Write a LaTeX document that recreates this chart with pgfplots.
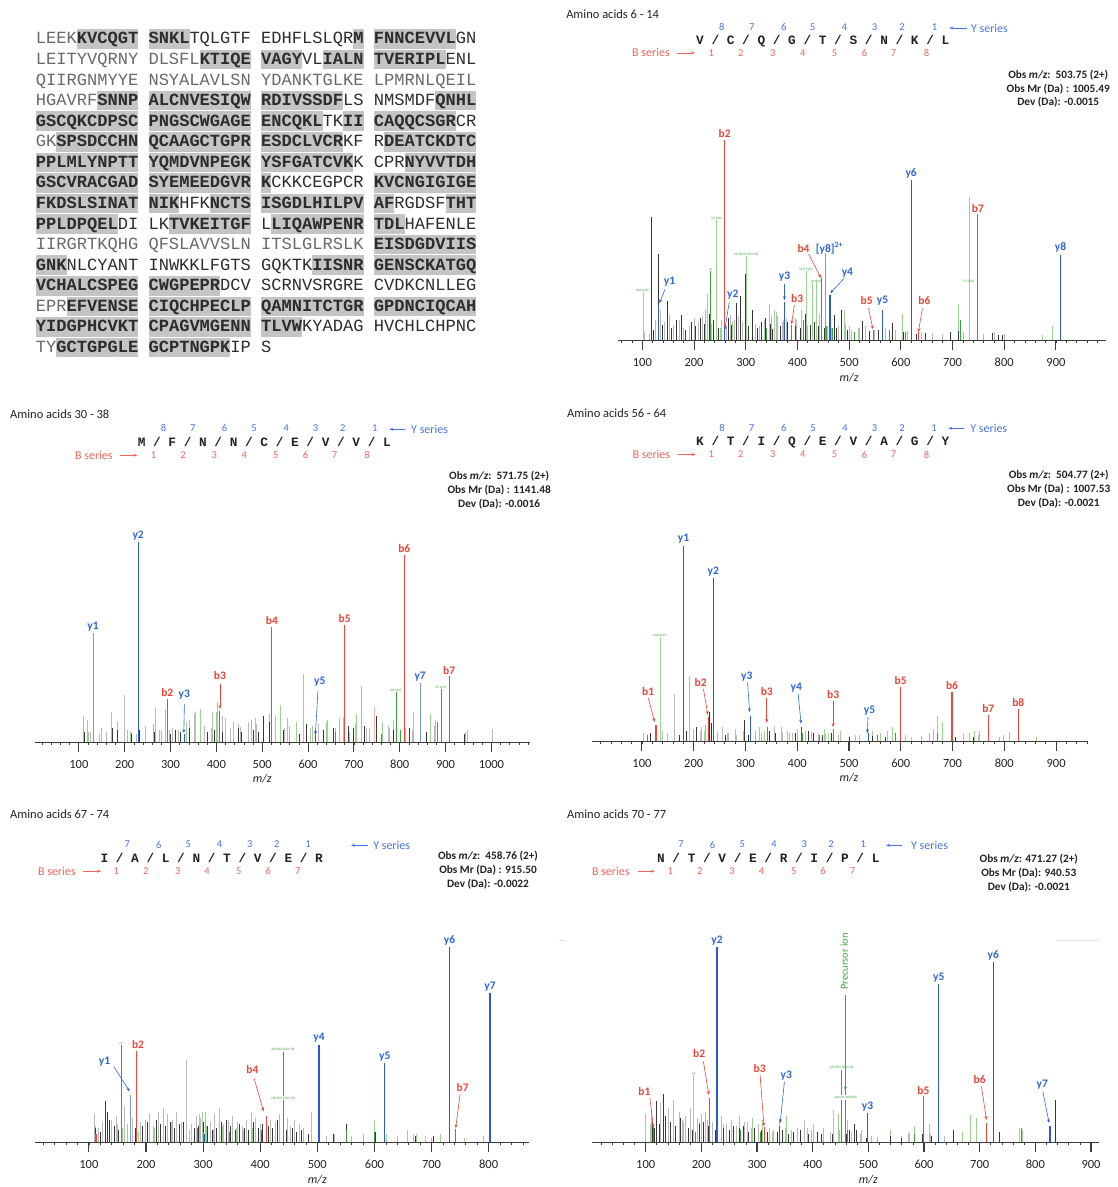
\documentclass[border=0pt]{standalone}
\usepackage{pgfplots}
\pgfplotsset{compat=1.18}
\usepackage{fontspec}
\setmainfont{Carlito}
\newfontfamily\seqfont{Liberation Mono}
\usetikzlibrary{arrows.meta}

\definecolor{txt}{RGB}{35,35,35}
\definecolor{seqlight}{RGB}{105,105,105}
\definecolor{seqdark}{RGB}{45,45,45}
\definecolor{hlgray}{RGB}{196,196,196}
\definecolor{numblue}{RGB}{70,115,225}
\definecolor{numred}{RGB}{240,100,90}
\definecolor{redpk}{RGB}{232,72,58}
\definecolor{bluepk}{RGB}{40,90,210}
\definecolor{lbluepk}{RGB}{120,150,225}
\definecolor{ltgray}{RGB}{185,185,185}
\definecolor{dkgray}{RGB}{55,55,55}
\definecolor{ltgreen}{RGB}{155,212,145}
\definecolor{dkgreen}{RGB}{60,160,60}
\definecolor{axisgray}{RGB}{60,60,60}
\definecolor{lblred}{RGB}{230,70,55}
\definecolor{lblblue}{RGB}{45,100,215}
\definecolor{lblgreen}{RGB}{60,165,60}

\newcommand\fs[1]{\fontsize{#1}{#1}\selectfont}
% highlighted residues: bold text over a grey band
\newcommand\HL[1]{\setbox0\hbox{\bfseries\color{seqdark}#1}\rlap{\color{hlgray}\rule[-4.8pt]{\wd0}{19.6pt}}\box0\relax}
\newcommand\seqrow[2]{\node[anchor=base west,inner sep=0pt,font=\seqfont\fs{17.1},text=seqlight] at (35.7,{44+20.6*(#1-1)}) {#2};}

\tikzset{
  plab/.style={font=\bfseries\fs{11.5}, inner sep=2pt},
  tiny/.style={font=\fs{3.5}, text=lblgreen, inner sep=0.5pt},
  arr/.style={line width=0.6pt, -{Stealth[length=4pt,width=3pt]}},
}
\pgfplotsset{
  spec/.style={
    scale only axis, clip=false,
    hide y axis, axis x line*=bottom,
    ymin=0, ymax=220, height=220pt,
    tick align=outside,
    major tick length=10pt, minor tick length=3pt,
    major tick style={line width=1.1pt, draw=axisgray},
    minor tick style={line width=0.7pt, draw=axisgray},
    x axis line style={line width=0.9pt, draw=axisgray},
    minor xtick={0,20,...,1100},
    xticklabel style={font=\fs{12.5}, text=txt, anchor=center, yshift=-12.3pt},
    /pgf/number format/1000 sep={},
    /pgf/number format/assume math mode=true,
  },
  pk/.style={ycomb, mark=none, line width=0.7pt},
  apk/.style={ycomb, mark=none, line width=1.1pt},
}

\begin{document}
\begin{tikzpicture}
\begin{scope}[x=1pt,y=-1pt]
\useasboundingbox (0,0) rectangle (1119,1187);

% ---------------- protein sequence with covered stretches ----------------
\seqrow{1}{LEEK\HL{KVCQGT} \HL{SNKL}TQLGTF EDHFLSLQR\HL{M} \HL{FNNCEVVL}GN}
\seqrow{2}{LEITYVQRNY DLSFL\HL{KTIQE} \HL{VAGY}VL\HL{IALN} \HL{TVERIPL}ENL}
\seqrow{3}{QIIRGNMYYE NSYALAVLSN YDANKTGLKE LPMRNLQEIL}
\seqrow{4}{HGAVRF\HL{SNNP} \HL{ALCNVESIQW} \HL{RDIVSSDF}LS NMSMDF\HL{QNHL}}
\seqrow{5}{\HL{GSCQKCDPSC} \HL{PNGSCWGAGE} \HL{ENCQKL}TK\HL{II} \HL{CAQQCSGR}CR}
\seqrow{6}{GK\HL{SPSDCCHN} \HL{QCAAGCTGPR} \HL{ESDCLVCR}KF R\HL{DEATCKDTC}}
\seqrow{7}{\HL{PPLMLYNPTT} \HL{YQMDVNPEGK} \HL{YSFGATCVK}K CPR\HL{NYVVTDH}}
\seqrow{8}{\HL{GSCVRACGAD} \HL{SYEMEEDGVR} \HL{K}CKKCEGPCR \HL{KVCNGIGIGE}}
\seqrow{9}{\HL{FKDSLSINAT} \HL{NIK}HFK\HL{NCTS} \HL{ISGDLHILPV} \HL{AF}RGDSF\HL{THT}}
\seqrow{10}{\HL{PPLDPQEL}DI LK\HL{TVKEITGF} L\HL{LIQAWPENR} \HL{TDL}HAFENLE}
\seqrow{11}{IIRGRTKQHG QFSLAVVSLN ITSLGLRSLK \HL{EISDGDVIIS}}
\seqrow{12}{\HL{GNK}NLCYANT INWKKLFGTS GQKTK\HL{IISNR} \HL{GENSCKATGQ}}
\seqrow{13}{\HL{VCHALCSPEG} \HL{CWGPEPR}DCV SCRNVSRGRE CVDKCNLLEG}
\seqrow{14}{EPR\HL{EFVENSE} \HL{CIQCHPECLP} \HL{QAMNITCTGR} \HL{GPDNCIQCAH}}
\seqrow{15}{\HL{YIDGPHCVKT} \HL{CPAGVMGENN} \HL{TLVW}KYADAG HVCHLCHPNC}
\seqrow{16}{TY\HL{GCTGPGLE} \HL{GCPTNGPK}IP S}

% ---------------- panel headers ----------------
% A: residues 6-14
\node[anchor=west,inner sep=0,font=\fs{12.5},text=txt] at (567,14) {Amino acids 6 - 14};
\node[anchor=base west,inner sep=0,font=\seqfont\bfseries\fs{12.8},text=txt] at (697.2,45) {V / C / Q / G / T / S / N / K / L};
\foreach \x/\n in {723/8,753/7,785/6,814/5,846/4,876/3,903.6/2,936/1} \node[font=\fs{10.5},text=numblue] at (\x,27) {\n};
\foreach \x/\n in {712.5/1,742/2,774/3,804/4,836/5,866/6,895/7,928/8} \node[font=\fs{10.5},text=numred] at (\x,53) {\n};
\draw[numblue,arr] (969,28) -- (951,28);
\node[anchor=west,inner sep=0,font=\fs{12},text=numblue] at (972.5,28) {Y series};
\node[anchor=east,inner sep=0,font=\fs{12},text=numred] at (671,53) {B series};
\draw[numred,arr] (678,53) -- (696,53);
\node[font=\bfseries\fs{11.3},text=txt] at (1060,75) {Obs \textit{m/z}:\ \ 503.75 (2+)};
\node[font=\bfseries\fs{11.3},text=txt] at (1060,89) {Obs Mr (Da) : 1005.49};
\node[font=\bfseries\fs{11.3},text=txt] at (1060,102.5) {Dev (Da): -0.0015};

% B: residues 30-38
\node[anchor=west,inner sep=0,font=\fs{12.5},text=txt] at (10,415) {Amino acids 30 - 38};
\node[anchor=base west,inner sep=0,font=\seqfont\bfseries\fs{12.8},text=txt] at (137.8,447) {M / F / N / N / C / E / V / V / L};
\foreach \x/\n in {163.7/8,193.2/7,224.9/6,254.4/5,286.8/4,316/3,343.4/2,375.4/1} \node[font=\fs{10.5},text=numblue] at (\x,429) {\n};
\foreach \x/\n in {153.7/1,183.3/2,214.6/3,244.8/4,276.2/5,306/6,335.2/7,367.6/8} \node[font=\fs{10.5},text=numred] at (\x,456) {\n};
\draw[numblue,arr] (405.7,430) -- (390,430);
\node[anchor=west,inner sep=0,font=\fs{12},text=numblue] at (411.7,430) {Y series};
\node[anchor=east,inner sep=0,font=\fs{12},text=numred] at (113,456) {B series};
\draw[numred,arr] (120,456) -- (137.7,456);
\node[font=\bfseries\fs{11.3},text=txt] at (500,477.3) {Obs \textit{m/z}:\ \ 571.75 (2+)};
\node[font=\bfseries\fs{11.3},text=txt] at (500,491.3) {Obs Mr (Da) : 1141.48};
\node[font=\bfseries\fs{11.3},text=txt] at (500,505) {Dev (Da): -0.0016};

% C: residues 56-64
\node[anchor=west,inner sep=0,font=\fs{12.5},text=txt] at (567.9,414) {Amino acids 56 - 64};
\node[anchor=base west,inner sep=0,font=\seqfont\bfseries\fs{12.8},text=txt] at (697.2,446.3) {K / T / I / Q / E / V / A / G / Y};
\foreach \x/\n in {723.2/8,752.9/7,785/6,814.3/5,846.4/4,876/3,903.6/2,935.7/1} \node[font=\fs{10.5},text=numblue] at (\x,428.7) {\n};
\foreach \x/\n in {712.5/1,742/2,774/3,804/4,836/5,866/6,895/7,928/8} \node[font=\fs{10.5},text=numred] at (\x,455.3) {\n};
\draw[numblue,arr] (966,429) -- (950,429);
\node[anchor=west,inner sep=0,font=\fs{12},text=numblue] at (971.8,429) {Y series};
\node[anchor=east,inner sep=0,font=\fs{12},text=numred] at (671.4,455.3) {B series};
\draw[numred,arr] (679.6,455.3) -- (696.8,455.3);
\node[font=\bfseries\fs{11.3},text=txt] at (1060.5,476.3) {Obs \textit{m/z}:\ \ 504.77 (2+)};
\node[font=\bfseries\fs{11.3},text=txt] at (1060.5,490.3) {Obs Mr (Da) : 1007.53};
\node[font=\bfseries\fs{11.3},text=txt] at (1060.5,504) {Dev (Da): -0.0021};

% D: residues 67-74
\node[anchor=west,inner sep=0,font=\fs{12.5},text=txt] at (10,815.3) {Amino acids 67 - 74};
\node[anchor=base west,inner sep=0,font=\seqfont\bfseries\fs{12.8},text=txt] at (100.5,863.6) {I / A / L / N / T / V / E / R};
\foreach \x/\n in {127.4/7,159/6,188.6/5,220/4,250.2/3,277.2/2,308.5/1} \node[font=\fs{10.5},text=numblue] at (\x,846) {\n};
\foreach \x/\n in {116.4/1,146/2,178/3,207.5/4,239.1/5,268.7/6,298.2/7} \node[font=\fs{10.5},text=numred] at (\x,872.7) {\n};
\draw[numblue,arr] (368.3,846.7) -- (351.6,846.7);
\node[anchor=west,inner sep=0,font=\fs{12},text=numblue] at (373.7,846.7) {Y series};
\node[anchor=east,inner sep=0,font=\fs{12},text=numred] at (75.8,872.7) {B series};
\draw[numred,arr] (83.6,872.7) -- (101.4,872.7);
\node[font=\bfseries\fs{11.3},text=txt] at (488.8,858) {Obs \textit{m/z}:\ \ 458.76 (2+)};
\node[font=\bfseries\fs{11.3},text=txt] at (488.8,871.7) {Obs Mr (Da) : 915.50};
\node[font=\bfseries\fs{11.3},text=txt] at (488.8,885.3) {Dev (Da): -0.0022};

% E: residues 70-77
\node[anchor=west,inner sep=0,font=\fs{12.5},text=txt] at (567.9,815.3) {Amino acids 70 - 77};
\node[anchor=base west,inner sep=0,font=\seqfont\bfseries\fs{12.8},text=txt] at (658,864.3) {N / T / V / E / R / I / P / L};
\foreach \x/\n in {682.1/7,713.6/6,743.6/5,775.4/4,805.7/3,832.5/2,864.6/1} \node[font=\fs{10.5},text=numblue] at (\x,846) {\n};
\foreach \x/\n in {671.4/1,701/2,733.2/3,762.9/4,795/5,824.3/6,853.9/7} \node[font=\fs{10.5},text=numred] at (\x,872.7) {\n};
\draw[numblue,arr] (903.6,846.7) -- (887.5,846.7);
\node[anchor=west,inner sep=0,font=\fs{12},text=numblue] at (912.5,846.7) {Y series};
\node[anchor=east,inner sep=0,font=\fs{12},text=numred] at (630.7,872.7) {B series};
\draw[numred,arr] (639.3,872.7) -- (655.7,872.7);
\node[font=\bfseries\fs{11.3},text=txt] at (1030.5,861) {Obs \textit{m/z}: 471.27 (2+)};
\node[font=\bfseries\fs{11.3},text=txt] at (1030.5,875) {Obs Mr (Da): 940.53};
\node[font=\bfseries\fs{11.3},text=txt] at (1030.5,888.7) {Dev (Da): -0.0021};
\draw[black!12,line width=0.6pt] (560,941.7) -- (566,941.7);
\draw[black!12,line width=0.6pt] (1057.5,941.7) -- (1101,941.7);
\end{scope}

% ================= spectrum A: 6-14 =================
\begin{axis}[spec, at={(618.6pt,-340.7pt)}, anchor=south west, width=489.3pt,
  xmin=52, xmax=997, xtick={100,200,...,900}]
\addplot[pk,ltgray] coordinates {(104,8)(113,6)(125,20)(135,30)(143,18)(152,25)(160,15)(171,20)(180,12)(190,14)(200,22)(208,18)(216,24)(221,30)(225,46)(234,16)(244,28)(253,20)(262,14)(270,25)(277,20)(285,24)(294,18)(302,22)(318,16)(326,14)(335,20)(345.6,36)(350,24)(360,28)(370,18)(378,22)(388,15)(398,20)(408,16)(420,14)(436,18)(447,16)(458,14)(466,12)(480,14)(492,16)(505,10)(518,12)(532,14)(548,10)(570,12)(590,10)(612,9)(640,8)(660,7)(680,6)(720,8)(760,6)(780,8)(800,6)};
\addplot[pk,ltgreen] coordinates {(101,48)(190,10)(243.7,120)(250,12)(275,18)(301,84)(330,15)(355,30)(362,24)(372,20)(395,22)(408,30)(416.7,69)(429,58)(436,58)(442,26)(490.5,29)(500,14)(520,12)(602,26)(712,36)(732,143)(873,5)(893,14)};
\addplot[pk,dkgray] coordinates {(118,123)(121,10)(130,86)(138,15)(149,39)(157,12)(166,20)(176,25)(184,10)(195,18)(203,14)(212,22)(219,16)(230,26)(238,20)(247,12)(258,16)(266,22)(273,15)(281,37)(290,44)(299.5,66)(305,14)(313,30)(322,12)(331,18)(338,22)(347,16)(352,11)(366,14)(381,18)(395,14)(405,12)(416,26)(425,15)(432,18)(440,14)(452,12)(471,25)(476,12)(485,30)(496,10)(510,8)(526,19)(540,9)(556,10)(584,17)(604,8)(630,6)(648,7)(695,8)(711,9)(777,7)(788,5)(796,5)};
\addplot[pk,dkgreen] coordinates {(232,69)(340,12)(412,20)(455,14)(468,12)(510,8)(578,10)(608,8)(715,20)};
\addplot[apk,redpk] coordinates {(259.3,200.7)(749,126)(447,62.4)(388.5,15)(547,10)(634,8)};
\addplot[apk,bluepk] coordinates {(620,160)(909,85.7)(132,35.7)(258,10)(375,37.7)(463,45.7)(563.7,30)};
\addplot[apk,lbluepk] coordinates {(454.4,87.4)};
\node[plab,text=lblred,anchor=south] at (axis cs:259.3,200.7) {b2};
\node[plab,text=lblblue,anchor=south] at (axis cs:620,160) {y6};
\node[plab,text=lblred,anchor=south] at (axis cs:749,126) {b7};
\node[plab,text=lblblue,anchor=south] at (axis cs:909,85.7) {y8};
\node[plab,text=lblblue] at (axis cs:462,92) {[y8]\textsuperscript{2+}};
\node[plab,text=lblred] at (axis cs:411.7,91.4) {b4};
\draw[arr,lblred] (axis cs:421.5,86.4) -- (axis cs:445.7,62);
\node[plab,text=lblblue] at (axis cs:496.6,67.4) {y4};
\draw[arr,lblblue] (axis cs:490.5,62) -- (axis cs:463.5,47);
\node[plab,text=lblblue] at (axis cs:375,64) {y3};
\draw[arr,lblblue] (axis cs:375,56.7) -- (axis cs:375,40);
\node[plab,text=lblred] at (axis cs:399.5,41.7) {b3};
\draw[arr,lblred] (axis cs:394,35) -- (axis cs:388.5,16);
\node[plab,text=lblblue] at (axis cs:152.5,58.7) {y1};
\draw[arr,lblblue] (axis cs:143.5,50.7) -- (axis cs:133,37);
\node[plab,text=lblblue] at (axis cs:274.8,45.7) {y2};
\draw[arr,lblblue] (axis cs:268,38) -- (axis cs:259.3,10);
\node[plab,text=lblred] at (axis cs:534,39.7) {b5};
\draw[arr,lblred] (axis cs:537.5,32) -- (axis cs:546,11);
\node[plab,text=lblblue] at (axis cs:564.4,39.7) {y5};
\node[plab,text=lblred] at (axis cs:645.6,39.7) {b6};
\draw[arr,lblred] (axis cs:641.7,32) -- (axis cs:634,8);
\node[tiny,anchor=south] at (axis cs:101,48) {Immon(L)};
\node[tiny,anchor=south] at (axis cs:243.7,120) {y2-NH3};
\node[tiny,anchor=south] at (axis cs:232,69) {a2};
\node[tiny,anchor=south] at (axis cs:301,84) {b6-NH3-H2O+28};
\node[tiny,anchor=south] at (axis cs:416.7,69) {b(3)-H2O};
\node[tiny] at (axis cs:436,59) {y6-NH3};
\node[tiny] at (axis cs:732,59) {b7-H2O};
\node[font=\itshape\fs{12},text=txt] at (axis cs:500,0) [yshift=-38pt] {m/z};
\end{axis}

% ================= spectrum B: 30-38 =================
\begin{axis}[spec, at={(34.9pt,-743.3pt)}, anchor=south west, width=495.9pt,
  xmin=4, xmax=1084, xtick={100,200,...,1000}]
\addplot[pk,ltgray] coordinates {(110,26)(118,22)(124,10)(148,14)(160,10)(170,30)(183,20)(198.4,47)(205,12)(215,10)(226,8)(262,18)(275,12)(289,33)(303,14)(318,12)(342,22)(351,28)(373,16)(392,30)(402,40)(414,26)(430,14)(452,15)(470,20)(488,18)(503,22)(515,28)(528,26)(548,14)(560,16)(575,20)(590.6,68)(606,14)(622,18)(642,22)(660,14)(676,25)(690,10)(704,18)(717,56)(728,14)(763,20)(775,16)(786,22)(812,14)(828,12)(866,18)(876,16)(890,14)(944,10)(1001,13)};
\addplot[pk,redpk!40] coordinates {(743.7,35)};
\addplot[pk,ltgreen] coordinates {(120,10)(145,8)(212,10)(245,16)(266,34)(280,12)(298,12)(335,20)(355,30)(366,33)(388,14)(400,30)(420,24)(436,20)(448,18)(476,22)(484,24)(538.6,37)(555,24)(574,20)(610,16)(640,20)(668,24)(705,28)(733,14)(762,18)(778,14)(830,30)(866,28)(878,22)(948,12)};
\addplot[pk,dkgray] coordinates {(112,10)(131,22)(172,14)(185,12)(215,8)(231,12)(265,10)(292,10)(300,8)(310,12)(321,10)(340,14)(380,10)(396,12)(412,10)(449,14)(455,10)(480,12)(492,10)(503,26)(515,20)(546,12)(580,8)(597,18)(634,12)(655,14)(688,16)(698,14)(723,16)(748,26)(786,12)(820,14)(858,10)(942,8)};
\addplot[pk,dkgreen] coordinates {(660,10)(760,8)(792,50)(802,12)(883,20)(890,53)};
\addplot[apk,redpk] coordinates {(293,43.3)(407.6,31.6)(521,115.7)(680,117.3)(810,187.3)(908,65.7)};
\addplot[apk,bluepk] coordinates {(229.4,200)(330,8)(616,12)};
\addplot[apk,lbluepk] coordinates {(131,109)(844.6,59)};
\node[plab,text=lblblue,anchor=south] at (axis cs:131,109) {y1};
\node[plab,text=lblblue,anchor=south] at (axis cs:229.4,200) {y2};
\node[plab,text=lblred,anchor=south] at (axis cs:293,43.3) {b2};
\node[plab,text=lblblue] at (axis cs:330.2,47.3) {y3};
\draw[arr,lblblue] (axis cs:330.2,38.3) -- (axis cs:329,9);
\node[plab,text=lblred] at (axis cs:407.7,66.6) {b3};
\draw[arr,lblred] (axis cs:407.7,58.3) -- (axis cs:407.7,33);
\node[plab,text=lblred,anchor=south] at (axis cs:521,115.7) {b4};
\node[plab,text=lblred,anchor=south] at (axis cs:680,117.3) {b5};
\node[plab,text=lblred,anchor=south] at (axis cs:810,187.3) {b6};
\node[plab,text=lblblue,anchor=south] at (axis cs:844.6,59) {y7};
\node[plab,text=lblred,anchor=south] at (axis cs:908,65.7) {b7};
\node[plab,text=lblblue] at (axis cs:625.5,60) {y5};
\draw[arr,lblblue] (axis cs:621.6,51.6) -- (axis cs:616,7);
\node[tiny,anchor=south] at (axis cs:792,50) {b6-NH3};
\node[tiny,anchor=south] at (axis cs:890,53) {b7-NH3};
\node[font=\itshape\fs{12},text=txt] at (axis cs:500,0) [yshift=-37pt] {m/z};
\end{axis}

% ================= spectrum C: 56-64 =================
\begin{axis}[spec, at={(593.2pt,-742.7pt)}, anchor=south west, width=496.3pt,
  xmin=4, xmax=961, xtick={100,200,...,900}]
\addplot[pk,ltgray] coordinates {(140,10)(150,8)(163.6,47.7)(191.4,65.3)(200,12)(212,10)(222,16)(245,10)(255.4,14.4)(266,8)(282,6)(320,10)(330,8)(355,15)(372,9)(385,8)(400,12)(415,10)(428,9)(440,8)(455,7)(480,6)(500,5)(512,6)(560,5)(590,5)(620,4)(640,5)(720,4)(750,6)(790,4)};
\addplot[pk,ltgreen] coordinates {(103,8)(125,14)(134.7,104.3)(150,8)(215,14)(220,10)(265,8)(280,12)(295,10)(326,14)(336,10)(370,14)(380,10)(390,8)(453,12.7)(460,8)(484,10)(520,6)(545,10)(560,8)(575,10)(583,14)(608,6)(655,8)(662,12)(670,26)(680,19)(720,8)(732,8)(742,10)(752,10)(798,6)(809,9)(862,4)};
\addplot[pk,dkgray] coordinates {(117,8)(172,6)(185,10)(205,14)(230,30)(235,18)(262,6)(298.6,22)(305,6)(346,10)(358,8)(396,8)(422,10)(432,8)(448,6)(465,8)(500,4)(545,5)(570,4)(705,4)(740,4)};
\addplot[pk,dkgreen] coordinates {(110,6)(410,8)(442,6)(555,6)(590,8)(670,8)};
\addplot[apk,redpk] coordinates {(127.2,16.7)(229,24.4)(342,14.4)(470,12)(599.6,54.3)(699,49.3)(769,27)(827,32.7)};
\addplot[apk,bluepk] coordinates {(180.2,196)(238,163.3)(309.8,26)(408,14)(537,8)};
\node[plab,text=lblblue,anchor=south] at (axis cs:180.2,196) {y1};
\node[plab,text=lblblue,anchor=south] at (axis cs:238,163.3) {y2};
\node[plab,text=lblred,anchor=south] at (axis cs:599.6,54.3) {b5};
\node[plab,text=lblred,anchor=south] at (axis cs:699,49.3) {b6};
\node[plab,text=lblred,anchor=south] at (axis cs:769,27) {b7};
\node[plab,text=lblred,anchor=south] at (axis cs:827,32.7) {b8};
\node[plab,text=lblred] at (axis cs:112.2,50.4) {b1};
\draw[arr,lblred] (axis cs:112.2,43.7) -- (axis cs:124.5,19.4);
\node[plab,text=lblred] at (axis cs:213.4,59.4) {b2};
\draw[arr,lblred] (axis cs:218.8,52.7) -- (axis cs:227.3,26.7);
\node[plab,text=lblblue] at (axis cs:302.7,65.4) {y3};
\draw[arr,lblblue] (axis cs:304.1,59.4) -- (axis cs:308,29.4);
\node[plab,text=lblred] at (axis cs:341.2,50.4) {b3};
\draw[arr,lblred] (axis cs:341.2,43.7) -- (axis cs:341.2,18.7);
\node[plab,text=lblblue] at (axis cs:398.3,54) {y4};
\draw[arr,lblblue] (axis cs:401.8,47.7) -- (axis cs:407.4,17.7);
\node[plab,text=lblred] at (axis cs:469.3,47) {b3};
\draw[arr,lblred] (axis cs:469.3,41) -- (axis cs:469.3,14.4);
\node[plab,text=lblblue] at (axis cs:539.5,30.4) {y5};
\draw[arr,lblblue] (axis cs:536.8,24.4) -- (axis cs:535.4,8);
\node[tiny,anchor=south] at (axis cs:134.7,104.3) {Immon(Y)};
\node[font=\itshape\fs{12},text=txt] at (axis cs:500,0) [yshift=-36pt] {m/z};
\end{axis}

% ================= spectrum D: 67-74 =================
\begin{axis}[spec, at={(34.7pt,-1144.3pt)}, anchor=south west, width=494.8pt,
  xmin=5, xmax=870, xtick={100,200,...,800}]
\addplot[pk,ltgray] coordinates {(108.7,28)(116,14)(124,20)(140,22)(148,26)(162,36)(168,18)(176,24)(190,20)(198,22)(206,28)(212,16)(222,30)(230,34)(238,28)(246,22)(254,30)(262,20)(271,83)(280,18)(288,26)(296,24)(304,30)(312,20)(320,28)(328,34)(336,18)(344,22)(352,26)(360,20)(368,16)(376,22)(384,30)(392,24)(400,18)(418,22)(426,20)(434,28)(452,16)(460,22)(468,18)(476,14)(490,30)(515,6)(530,8)(560,6)(580,8)(658,12)(668,8)(690,6)(700,4)};
\addplot[pk,ltgreen] coordinates {(112,16)(150,18)(158,14)(186,10)(214,14)(244,20)(276,12)(294,28)(298,30)(306,16)(318,12)(334,16)(358,14)(370,12)(386,14)(410,16)(426,18)(448,24)(456,14)(472,10)(550,10)(600.7,22.6)(620,8)(640,6)(674,8)(690,6)(715,8)(758,4)(790,6)};
\addplot[pk,dkgray] coordinates {(112,14)(120,10)(128.6,41)(132,30)(136,22)(144,16)(152,12)(172,10)(182,14)(194,16)(202,20)(218,22)(226,18)(234,16)(242,20)(250,14)(258,18)(266,20)(284,14)(292,16)(300,20)(308,16)(316,12)(324,14)(332,20)(340,22)(348,16)(356,12)(364,18)(372,14)(380,12)(388,20)(396,14)(404,18)(414,16)(422,14)(430,22)(446,12)(456,14)(464,10)(472,12)(484,8)(528,8)(550,18)(602,10)(672,6)(704,6)};
\addplot[pk,dkgreen] coordinates {(156,97.7)(290,14)(346,10)(402,12)(439.7,91)(550,12)(600,10)};
\addplot[apk,redpk] coordinates {(112.5,8)(184,92)(300,10)(411,26)(742.3,13)};
\addplot[apk,bluepk] coordinates {(302,8)(401.7,9)(503,97.7)(618,79.3)(731.5,195.3)(802.3,149.3)};
\addplot[apk,lbluepk] coordinates {(173.4,47.6)};
\node[plab,text=lblblue,anchor=south] at (axis cs:731.5,195.3) {y6};
\node[plab,text=lblblue,anchor=south] at (axis cs:802.3,149.3) {y7};
\node[plab,text=lblblue,anchor=south] at (axis cs:503,97.7) {y4};
\node[plab,text=lblblue,anchor=south] at (axis cs:618,79.3) {y5};
\node[plab,text=lblred,anchor=south] at (axis cs:186,92) {b2};
\node[plab,text=lblblue] at (axis cs:127.3,81) {y1};
\draw[arr,lblblue] (axis cs:143.5,76) -- (axis cs:171.5,51);
\node[plab,text=lblred] at (axis cs:386.2,72.6) {b4};
\draw[arr,lblred] (axis cs:389.2,64.3) -- (axis cs:406,31);
\node[plab,text=lblred] at (axis cs:754.4,55) {b7};
\draw[arr,lblred] (axis cs:750,48.3) -- (axis cs:742.3,14.3);
\node[tiny,anchor=south] at (axis cs:156,97.7) {a2};
\node[tiny,anchor=south] at (axis cs:439.7,91) {y8-NH3-H2O+28};
\node[tiny,fill=white] at (axis cs:439.7,44) {y8-H2O-H2O+28};
\node[font=\itshape\fs{12},text=txt] at (axis cs:500,0) [yshift=-37pt] {m/z};
\end{axis}

% ================= spectrum E: 70-77 =================
\begin{axis}[spec, at={(592.7pt,-1144.3pt)}, anchor=south west, width=508.5pt,
  xmin=3, xmax=915, xtick={100,200,...,900}]
\addplot[pk,ltgray] coordinates {(100,28)(110,32)(120,40)(127,39)(140,34)(150,42)(160,30)(166,22)(172,26)(180,34)(192,24)(200,28)(208,30)(220,20)(236,26)(245,18)(254,22)(262,16)(278,20)(290,14)(302,18)(322,14)(330,12)(350,14)(362,12)(372,10)(385,22)(398,12)(420,14)(432,10)(448,12)(470,10)(486,8)(506,6)(516,5)(540,4)(560,6)(572,8)(612,8)(637,6)(652,6)(735,8)};
\addplot[pk,ltgreen] coordinates {(108,18)(168,20)(186.4,67.6)(196,20)(210,22)(240,18)(268,26)(282,20)(292,24)(310,22)(328,10)(340,22)(352,26)(372,14)(390,14)(402,18)(437.5,32.6)(446,28)(462,22)(488,12)(540,12)(573,10)(582,16)(610,18)(668,10)(684,27)(694,24)(772,14)(776,12)};
\addplot[pk,dkgray] coordinates {(112,20)(116,14)(120,41)(124,18)(132,48.6)(136,26)(144,20)(154,16)(162,24)(176,14)(184,12)(196,18)(204,20)(212,16)(226,12)(240,14)(250,12)(258,16)(268,14)(276,16)(284,10)(296,14)(308,12)(318,10)(336,10)(346,12)(356,8)(366,10)(378,12)(392,8)(408,10)(415,8)(436,8)(460,8)(466,12)(474,18)(478,12)(496,4)(540,6)(560,4)(597,8)(613,6)(652,12)(735,10)(836.6,42)};
\addplot[pk,dkgreen] coordinates {(190,10)(270,12)(306,10)(452,72.6)(462,12)(582,8)(774,14)};
\addplot[apk,lblgreen] coordinates {(458.7,147.6)};
\addplot[apk,redpk] coordinates {(114,14)(215,44.3)(314,15)(598.9,46)(712,19.3)};
\addplot[apk,bluepk] coordinates {(228,195.3)(341,16)(498.5,29.3)(626.5,158.6)(724.5,180.3)(826.3,16.6)};
\node[plab,text=lblblue,anchor=south] at (axis cs:228,195.3) {y2};
\node[plab,text=lblblue,anchor=south] at (axis cs:724.5,180.3) {y6};
\node[plab,text=lblblue,anchor=south] at (axis cs:626.5,158.6) {y5};
\node[plab,text=lblblue,anchor=south] at (axis cs:498.5,29.3) {y3};
\node[plab,text=lblred,anchor=south] at (axis cs:598.9,46) {b5};
\node[plab,text=lblred] at (axis cs:97.8,51) {b1};
\draw[arr,lblred] (axis cs:107.5,44.3) -- (axis cs:114,14.3);
\node[plab,text=lblred] at (axis cs:196,89.3) {b2};
\draw[arr,lblred] (axis cs:203.7,81) -- (axis cs:213.4,47.6);
\node[plab,text=lblred] at (axis cs:304.8,74.3) {b3};
\draw[arr,lblred] (axis cs:305.5,67.6) -- (axis cs:312.5,16);
\node[plab,text=lblblue] at (axis cs:352.5,67) {y3};
\draw[arr,lblblue] (axis cs:349.2,61) -- (axis cs:341.5,19.3);
\node[plab,text=lblred] at (axis cs:700,63.3) {b6};
\draw[arr,lblred] (axis cs:703.2,56) -- (axis cs:712.2,22.6);
\node[plab,text=lblblue] at (axis cs:812.3,57.6) {y7};
\draw[arr,lblblue] (axis cs:813.4,51) -- (axis cs:824.8,19.3);
\node[font=\fs{10.5},text=lblgreen,rotate=90] at (axis cs:457,181.3) {Precursor ion};
\draw[arr,lblgreen] (axis cs:458.7,62) -- (axis cs:458.7,52);
\node[tiny,anchor=south] at (axis cs:452,72.6) {y8-H2O-H2O+28};
\node[tiny,fill=white] at (axis cs:460,45) {parent-2H2O(H)};
\node[tiny,anchor=south] at (axis cs:186.4,67.6) {a2};
\node[font=\itshape\fs{12},text=txt] at (axis cs:500,0) [yshift=-37pt] {m/z};
\end{axis}
\end{tikzpicture}
\end{document}
